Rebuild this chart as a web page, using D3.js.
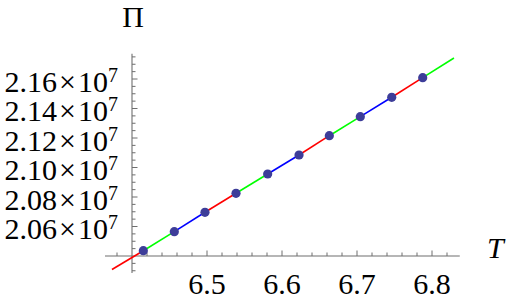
<!DOCTYPE html>
<html>
<head>
<meta charset="utf-8">
<script src="https://cdn.jsdelivr.net/npm/d3@7"></script>
<style>
  body { margin: 0; background: white; }
  svg { display: block; }
  text { font-family: "Liberation Serif", "Times New Roman", Times, serif; }
</style>
</head>
<body>
<div id="chart"></div>
<script>
// points along the line (first and last are only line ends, no dot)
const lineT  = [6.3733, 6.4151, 6.4564, 6.4973, 6.5387, 6.5809, 6.6227, 6.6631, 6.7044, 6.7463, 6.7876, 6.8293];
const linePi = [20308500, 20435900, 20564800, 20696300, 20825100, 20956000, 21084800, 21215600, 21344500, 21476000, 21608900, 21742400];
const segColors = ["#ff0000", "#00ff00", "#0000ff"];
const xTicks = [6.5, 6.6, 6.7, 6.8];
const yTicks = [2.06e7, 2.08e7, 2.10e7, 2.12e7, 2.14e7, 2.16e7];

const width = 507, height = 301;
const axisColor = "#6e6e6e";

const svg = d3.select("#chart")
    .append("svg")
    .attr("width", width)
    .attr("height", height);

const x = d3.scaleLinear()
    .domain([6.4, 6.8])
    .range([132, 432]);

const y = d3.scaleLinear()
    .domain([2.04e7, 2.16e7])
    .range([256, 79]);

const x0 = x(6.4), y0 = y(2.04e7);

// axis lines
svg.append("line")
    .attr("x1", x(6.364)).attr("x2", x(6.837))
    .attr("y1", y0).attr("y2", y0)
    .attr("stroke", axisColor).attr("stroke-width", 1.1);
svg.append("line")
    .attr("x1", x0).attr("x2", x0)
    .attr("y1", y(2.0285e7)).attr("y2", y(2.1772e7))
    .attr("stroke", axisColor).attr("stroke-width", 1.1);

// x ticks: majors every 0.1, minors every 0.02
const xMinor = d3.range(6.38, 6.831, 0.02).filter(v => Math.abs(v - 6.4) > 1e-6);
svg.selectAll(".xtick")
    .data(xMinor)
    .enter()
    .append("line")
    .attr("x1", d => x(d)).attr("x2", d => x(d))
    .attr("y1", y0)
    .attr("y2", d => xTicks.some(t => Math.abs(t - d) < 1e-6) ? y0 - 5.5 : y0 - 3.5)
    .attr("stroke", axisColor).attr("stroke-width", 1);

// y ticks: majors every 0.02e7, minors every 0.005e7
const yMinor = d3.range(2.03e7, 2.1771e7, 0.005e7).filter(v => Math.abs(v - 2.04e7) > 1);
svg.selectAll(".ytick")
    .data(yMinor)
    .enter()
    .append("line")
    .attr("y1", d => y(d)).attr("y2", d => y(d))
    .attr("x1", x0)
    .attr("x2", d => yTicks.some(t => Math.abs(t - d) < 1) ? x0 + 5.5 : x0 + 3.5)
    .attr("stroke", axisColor).attr("stroke-width", 1);

// x tick labels
svg.selectAll(".xlab")
    .data(xTicks)
    .enter()
    .append("text")
    .attr("x", d => x(d))
    .attr("y", 294)
    .attr("text-anchor", "middle")
    .attr("font-size", 30)
    .text(d => d.toFixed(1));

// y tick labels like 2.16×10^7, one text each
svg.selectAll(".ylab")
    .data(yTicks)
    .enter()
    .append("text")
    .attr("x", 118)
    .attr("y", d => y(d) + 12.5)
    .attr("text-anchor", "end")
    .attr("font-size", 30)
    .html(d => `${(d / 1e7).toFixed(2)}<tspan dx="2">\u00d7</tspan><tspan dx="2">10</tspan><tspan font-size="20" dy="-10">7</tspan>`);

// axis titles
svg.append("text")
    .attr("x", 133).attr("y", 27)
    .attr("text-anchor", "middle")
    .attr("font-size", 30)
    .text("\u03a0");
svg.append("text")
    .attr("x", 487).attr("y", 258)
    .attr("font-style", "italic")
    .attr("font-size", 30)
    .text("T");

// line segments, cycling red / green / blue
const segs = d3.range(lineT.length - 1);
svg.selectAll(".seg")
    .data(segs)
    .enter()
    .append("line")
    .attr("x1", i => x(lineT[i])).attr("y1", i => y(linePi[i]))
    .attr("x2", i => x(lineT[i + 1])).attr("y2", i => y(linePi[i + 1]))
    .attr("stroke", i => segColors[i % 3])
    .attr("stroke-width", 1.6);

// dots
const dots = d3.range(1, lineT.length - 1);
svg.selectAll(".dot")
    .data(dots)
    .enter()
    .append("circle")
    .attr("cx", i => x(lineT[i]))
    .attr("cy", i => y(linePi[i]))
    .attr("r", 4.6)
    .attr("fill", "#3d3d99");
</script>
</body>
</html>
